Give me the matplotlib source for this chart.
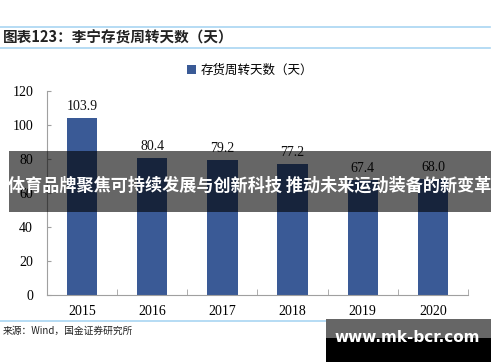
import matplotlib.pyplot as plt
from matplotlib.patches import Rectangle
from matplotlib.lines import Line2D

plt.rcParams['font.family'] = ['Liberation Serif', 'Noto Sans CJK SC', 'DejaVu Sans']

years = ['2015', '2016', '2017', '2018', '2019', '2020']
days = [103.9, 80.4, 79.2, 77.2, 67.4, 68.0]
series_name = '存货周转天数（天）'
title = '图表123：李宁存货周转天数（天）'
source = '来源：Wind，国金证券研究所'
banner = '体育品牌聚焦可持续发展与创新科技 推动未来运动装备的新变革'
watermark = 'www.mk-bcr.com'

W, H = 500, 362
fig = plt.figure(figsize=(W / 100, H / 100), dpi=100)

def fx(px):
    return px / W

def fy(py):
    return 1 - py / H

cjk = ['Noto Sans CJK SC', 'DejaVu Sans']
line_blue = '#A9D5F2'

# 标题区域的两条浅蓝线
for yy in (27, 48):
    fig.add_artist(Line2D([0, fx(490)], [fy(yy), fy(yy)], color=line_blue, lw=1.2))
fig.text(fx(3), fy(37.5), title, family=cjk, fontsize=10.5, fontweight='bold',
         style='italic', color='#222222', va='center', ha='left')

# 主图
ax = fig.add_axes([fx(47), fy(295), fx(468) - fx(47), fy(91) - fy(295)])
x = range(len(years))
bars = ax.bar(x, days, width=0.43, color='#3A5A96', label=series_name, zorder=2)
for xi, v in zip(x, days):
    ax.text(xi, v + 3, f'{v:.1f}', ha='center', va='bottom', fontsize=10, color='#111111')

ax.set_xlim(-0.5, len(years) - 0.5)
ax.set_ylim(0, 120)
ax.set_yticks(range(0, 121, 20))
ax.set_xticks(list(x))
ax.set_xticklabels(years)
ax.set_xticks([i - 0.5 for i in range(len(years) + 1)], minor=True)
ax.tick_params(axis='x', which='major', length=0, labelsize=10, pad=7)
ax.tick_params(axis='x', which='minor', direction='in', length=4, color='#A0A0A0')
ax.tick_params(axis='y', direction='in', length=3, color='#A0A0A0', labelsize=10, pad=10)
for side in ('top', 'right'):
    ax.spines[side].set_visible(False)
for side in ('left', 'bottom'):
    ax.spines[side].set_color('#A0A0A0')
    ax.spines[side].set_linewidth(0.8)

leg = fig.legend(handles=[bars], labels=[series_name], loc='center',
                 bbox_to_anchor=(fx(250), fy(70)), frameon=False,
                 prop={'family': cjk, 'size': 9}, handlelength=0.7, handleheight=0.7,
                 handletextpad=0.4)

# 底部线与来源
fig.add_artist(Line2D([0, fx(490)], [fy(321), fy(321)], color=line_blue, lw=1.2))
fig.text(fx(3), fy(331), source, family=cjk, fontsize=7, color='#222222', va='center')

# 覆盖横幅
fig.add_artist(Rectangle((fx(9), fy(212)), fx(491) - fx(9), fy(151) - fy(212),
                         transform=fig.transFigure, facecolor='black', alpha=0.6,
                         edgecolor='none', zorder=10))
fig.text(fx(250), fy(186), banner, family=cjk, fontsize=12.3, fontweight='bold',
         color='white', ha='center', va='center', zorder=11)

# 右下角水印
fig.add_artist(Rectangle((fx(326), fy(338)), fx(491) - fx(326), fy(319) - fy(338),
                         transform=fig.transFigure, facecolor='#666666',
                         edgecolor='none', zorder=10))
fig.add_artist(Rectangle((fx(326), fy(362)), fx(491) - fx(326), fy(338) - fy(362),
                         transform=fig.transFigure, facecolor='black',
                         edgecolor='none', zorder=10))
fig.text(fx(407), fy(338), watermark, family=['DejaVu Sans'], fontsize=11,
         fontweight='bold', color='white', ha='center', va='center', zorder=11)

fig.savefig('out.png', dpi=100)
